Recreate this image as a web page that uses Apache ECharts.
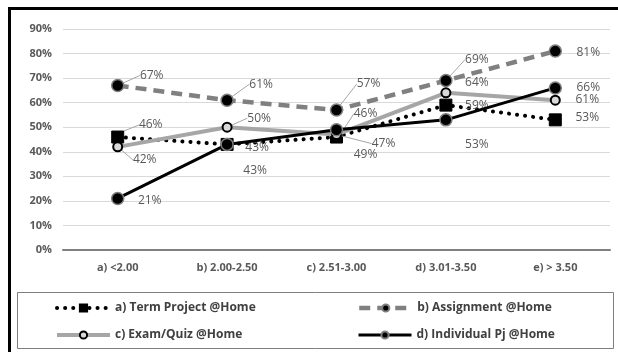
<!DOCTYPE html>
<html>
<head>
<meta charset="utf-8">
<script src="https://cdn.jsdelivr.net/npm/echarts@6/dist/echarts.min.js"></script>
<style>
  html, body { margin: 0; padding: 0; background: #fff; }
  #chart { width: 618px; height: 352px; }
</style>
</head>
<body>
<div id="chart"></div>
<script>
// GPA bands on the x axis
const categories = ['a) <2.00', 'b) 2.00-2.50', 'c) 2.51-3.00', 'd) 3.01-3.50', 'e) > 3.50'];

// Percentages per assessment type
const termProject  = [46, 43, 46, 59, 53];
const assignment   = [67, 61, 57, 69, 81];
const examQuiz     = [42, 50, 47, 64, 61];
const individualPj = [21, 43, 49, 53, 66];

const seriesNames = [
  'a) Term Project @Home',
  'b) Assignment @Home',
  'c) Exam/Quiz @Home',
  'd) Individual Pj @Home'
];

const yTicks = [0, 10, 20, 30, 40, 50, 60, 70, 80, 90];

// Label placement (offset of label centre from its point) and leader-line flags
const labelOffsets = [
  [[33, -12], [30, 3], [29, -23], [31, 0], [32, -2]],
  [[34, -10], [34, -16], [32, -26], [31, -21], [33, 1]],
  [[27, 13], [32, -9], [47, 9], [31, -10], [32, -1]],
  [[32, 2], [28, 26], [29, 25], [31, 25], [33, 0]]
];
const leaders = [
  [1, 0, 1, 0, 0],
  [1, 1, 1, 1, 0],
  [1, 1, 1, 0, 0],
  [0, 0, 0, 0, 0]
];

const FONT = '"Open Sans", "Noto Sans", sans-serif';
const labelText = { color: '#595959', fontSize: 12, fontFamily: FONT };

function buildData(values, s) {
  return values.map((v, i) => ({
    value: v,
    labelLine: { show: !!leaders[s][i] }
  }));
}

function labelLayoutFor(s) {
  return function (p) {
    const o = labelOffsets[s][p.dataIndex];
    return { dx: o[0], dy: o[1] };
  };
}

const commonLabel = Object.assign({
  show: true,
  position: 'inside',
  formatter: '{c}%'
}, labelText);

const commonLabelLine = {
  show: true,
  length2: 0,
  lineStyle: { color: '#a6a6a6', width: 1 }
};

const chart = echarts.init(document.getElementById('chart'), null, { renderer: 'canvas' });

function legendFor(idx, left, top, lineWidth) {
  return {
    data: [seriesNames[idx]],
    left: left,
    top: top,
    padding: 0,
    orient: 'horizontal',
    itemWidth: 53,
    itemHeight: 9,
    lineStyle: { width: lineWidth },
    textStyle: { color: '#404040', fontSize: 12, fontWeight: 'bold', fontFamily: FONT },
    selectedMode: false
  };
}

chart.setOption({
  animation: false,
  backgroundColor: '#fff',
  graphic: [
    {
      type: 'rect',
      shape: { x: 9.5, y: 8.5, width: 700, height: 400 },
      style: { fill: 'none', stroke: '#000', lineWidth: 3 },
      silent: true
    },
    {
      type: 'rect',
      shape: { x: 17.5, y: 292.5, width: 596, height: 56 },
      style: { fill: 'none', stroke: '#7f7f7f', lineWidth: 1 },
      silent: true
    }
  ],
  grid: { left: 63, right: 8, top: 29, bottom: 102, containLabel: false },
  xAxis: {
    type: 'category',
    data: categories,
    boundaryGap: true,
    axisLine: { show: true, lineStyle: { color: '#808080', width: 2 } },
    axisTick: { show: false },
    axisLabel: {
      color: '#595959', fontSize: 11, fontWeight: 'bold', fontFamily: FONT, margin: 12
    }
  },
  yAxis: {
    type: 'value',
    min: yTicks[0],
    max: yTicks[yTicks.length - 1],
    interval: 10,
    axisLine: { show: false },
    axisTick: { show: false },
    splitLine: { lineStyle: { color: '#d9d9d9', width: 1 } },
    axisLabel: {
      color: '#595959', fontSize: 11, fontWeight: 'bold', fontFamily: FONT,
      margin: 11, formatter: '{value}%'
    }
  },
  legend: [
    legendFor(0, 55, 302, 4),
    legendFor(1, 357, 302, 4.5),
    legendFor(2, 55, 329, 4),
    legendFor(3, 357, 329, 3)
  ],
  series: [
    {
      name: seriesNames[0],
      type: 'line',
      data: buildData(termProject, 0),
      symbol: 'rect',
      symbolSize: 12,
      lineStyle: { color: '#000', width: 4, type: [0.1, 8], cap: 'round' },
      itemStyle: { color: '#000', borderColor: '#000', borderWidth: 1 },
      label: commonLabel,
      labelLine: commonLabelLine,
      labelLayout: labelLayoutFor(0),
      z: 2
    },
    {
      name: seriesNames[1],
      type: 'line',
      data: buildData(assignment, 1),
      symbol: 'circle',
      symbolSize: 12,
      lineStyle: { color: '#808080', width: 4.5, type: [11, 7] },
      itemStyle: { color: '#000', borderColor: '#7f7f7f', borderWidth: 1.5 },
      label: commonLabel,
      labelLine: commonLabelLine,
      labelLayout: labelLayoutFor(1),
      z: 3
    },
    {
      name: seriesNames[2],
      type: 'line',
      data: buildData(examQuiz, 2),
      symbol: 'circle',
      symbolSize: 9,
      lineStyle: { color: '#a6a6a6', width: 4 },
      itemStyle: { color: '#d9d9d9', borderColor: '#000', borderWidth: 2 },
      label: commonLabel,
      labelLine: commonLabelLine,
      labelLayout: labelLayoutFor(2),
      z: 4
    },
    {
      name: seriesNames[3],
      type: 'line',
      data: buildData(individualPj, 3),
      symbol: 'circle',
      symbolSize: 12,
      lineStyle: { color: '#000', width: 3 },
      itemStyle: { color: '#000', borderColor: '#7f7f7f', borderWidth: 1.5 },
      label: commonLabel,
      labelLine: commonLabelLine,
      labelLayout: labelLayoutFor(3),
      z: 5
    }
  ]
});
</script>
</body>
</html>
